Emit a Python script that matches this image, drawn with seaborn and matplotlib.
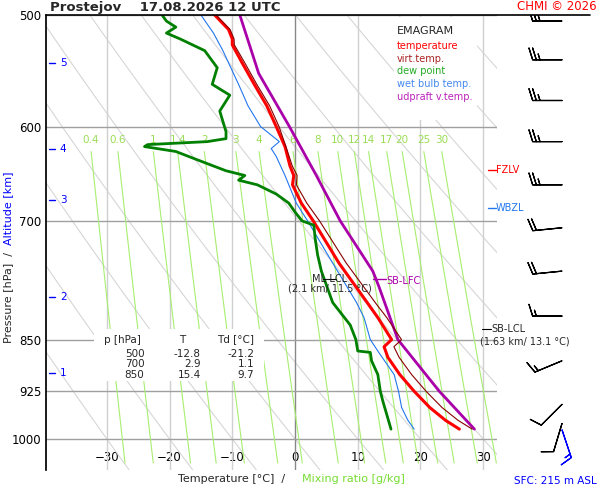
import numpy as np
import pandas as pd
import matplotlib
matplotlib.use("Agg")
import matplotlib.pyplot as plt
import seaborn as sns
from matplotlib.lines import Line2D

sns.set_theme(style="white")
plt.rcParams['font.family'] = ['DejaVu Sans']

# ---- data ----
p_T = [984, 970, 950, 925, 900, 875, 860, 855, 850, 820, 800, 750, 700, 680, 660, 650, 640, 620, 600, 580, 560, 540, 525, 520, 512, 500]
T   = [26.2, 24.0, 21.5, 19.0, 16.7, 14.8, 14.2, 14.8, 15.4, 13.2, 11.5, 7.0, 2.9, 1.0, -0.4, -0.2, -0.8, -1.6, -3.0, -4.5, -6.5, -8.5, -10.0, -10.0, -10.6, -12.8]
p_Td = [984, 960, 940, 925, 900, 880, 868, 866, 850, 830, 800, 760, 740, 720, 705, 700, 690, 680, 670, 660, 655, 650, 645, 640, 630, 625, 620, 618, 615, 612, 605, 595, 585, 570, 560, 545, 530, 520, 515, 510, 505, 500]
Td   = [15.3, 14.6, 14.0, 13.6, 13.2, 12.2, 12.0, 10.0, 9.7, 8.8, 6.0, 4.2, 3.6, 3.2, 3.0, 1.1, 0.0, -1.0, -3.0, -6.0, -9.0, -8.0, -11.0, -13.0, -17.0, -19.0, -24.0, -23.5, -14.0, -11.0, -11.0, -11.5, -12.0, -10.4, -13.2, -12.4, -14.4, -18.3, -20.5, -19.0, -20.5, -21.2]
p_Tw = [984, 970, 950, 925, 900, 870, 850, 820, 800, 750, 700, 680, 650, 630, 622, 615, 600, 580, 560, 530, 515, 500]
Tw   = [19.0, 18.0, 17.0, 16.5, 15.8, 13.5, 12.0, 11.0, 9.8, 6.0, 2.0, 0.2, -1.6, -3.0, -3.8, -2.5, -5.5, -7.5, -9.0, -11.5, -13.0, -15.0]
p_par = [984, 925, 850, 780, 760, 700, 650, 600, 550, 500]
T_par = [28.6, 23.0, 16.4, 13.4, 12.4, 7.2, 3.4, -0.9, -5.8, -8.8]

wind_p = [505, 538, 575, 615, 660, 708, 760, 818, 880, 945, 975, 985]
wind_u = [25, 25, 25, 25, 25, 20, 20, 15, 12, 8, 3, -4]
wind_v = [0, 0, 0, 0, 0, 2, 2, 0, 5, 8, 10, 12]

alt_km = [1, 2, 3, 4, 5]
alt_p = [897, 793, 677, 622, 541]
mix_r = [0.4, 0.6, 1, 1.4, 2, 3, 4, 6, 8, 10, 12, 14, 17, 20, 25, 30]
p_ticks = [500, 600, 700, 850, 925, 1000]
tab_p = ['500', '700', '850']
tab_T = ['-12.8', '2.9', '15.4']
tab_Td = ['-21.2', '1.1', '9.7']

# virtual temperature from T and Td
def mixr(td, p):
    e = 6.112 * np.exp(17.67 * td / (td + 243.5))
    return 0.622 * e / (p - e)
Td_i = np.interp(np.log(p_T), np.log(p_Td[::-1]), Td[::-1])
Tv = [(t + 273.15) * (1 + 0.61 * mixr(td, p)) - 273.15 for t, td, p in zip(T, Td_i, p_T)]

fig = plt.figure(figsize=(6, 5), dpi=100)
ax = fig.add_axes([46/600, 30/500, 451/600, 455/500])
ax.set_yscale('log')
ax.set_ylim(1052, 500)
ax.set_xlim(-39.7, 32.2)
for s in ['right', 'bottom', 'top']:
    ax.spines[s].set_visible(False)
ax.spines['left'].set_color('black')

# background
pp = np.linspace(500, 1052, 100)
for th in range(-30, 160, 10):
    tk = th + 273.15
    ax.plot(tk * (pp / 1000) ** 0.286 - 273.15, pp, color='#d6d6d6', lw=0.8, zorder=1)
for t in range(-30, 40, 10):
    ax.axvline(t, color='#888888' if t == 0 else '#d0d0d0', lw=1.0, zorder=1)
for pv in p_ticks:
    ax.axhline(pv, color='#a0a0a0', lw=1.0, zorder=1)
pm = np.linspace(625, 1040, 50)
for w in mix_r:
    e = w / 1000 * pm / (0.622 + w / 1000)
    le = np.log(e / 6.112)
    td = 243.5 * le / (17.67 - le)
    ax.plot(td, pm, color='#a8ee70', lw=0.8, zorder=1)
    ax.text(td[0], 618, f"{w:g}", color='#99dd55', fontsize=7.5, ha='center', va='bottom', zorder=2)

kw = dict(sort=False, estimator=None, ax=ax)
sns.lineplot(x=T_par, y=p_par, color='#aa00aa', lw=2, zorder=4, **kw)
sns.lineplot(x=Tv, y=p_T, color='#880000', lw=0.8, zorder=5, **kw)
sns.lineplot(x=T, y=p_T, color='red', lw=2.2, zorder=4, **kw)
sns.lineplot(x=Tw, y=p_Tw, color='#2277ee', lw=0.8, zorder=4, **kw)
sns.lineplot(x=Td, y=p_Td, color='green', lw=2, zorder=4, **kw)

ax.set_yticks(p_ticks)
ax.set_yticklabels([str(v) for v in p_ticks])
ax.yaxis.set_minor_locator(matplotlib.ticker.NullLocator())
ax.set_xticks(range(-30, 40, 10))
ax.tick_params(length=0, labelsize=8.5, colors='black')
ax.tick_params(axis='x', pad=-14)
ax.set_xlabel('')
ax.set_ylabel('')

# altitude ticks
for k, pa in zip(alt_km, alt_p):
    ax.plot([-39.3, -38.3], [pa, pa], color='blue', lw=1, zorder=6)
    ax.text(-37.5, pa, str(k), color='blue', fontsize=7.5, va='center')

# table
ax.add_patch(plt.Rectangle((-32, 835), 27, 75, facecolor='white', edgecolor='none', zorder=6))
ax.text(-30.5, 850, 'p [hPa]', fontsize=7.5, va='center', zorder=7)
ax.text(-18.5, 850, 'T', fontsize=7.5, va='center', zorder=7)
ax.text(-12.5, 850, 'Td [°C]', fontsize=7.5, va='center', zorder=7)
for i, py in enumerate([870.6, 885, 900]):
    ax.text(-24.0, py, tab_p[i], fontsize=7.5, ha='right', va='center', zorder=7)
    ax.text(-15.0, py, tab_T[i], fontsize=7.5, ha='right', va='center', zorder=7)
    ax.text(-6.5, py, tab_Td[i], fontsize=7.5, ha='right', va='center', zorder=7)

ax.add_patch(plt.Rectangle((15.8, 502), 13.2, 92, facecolor='white', edgecolor='none', zorder=6))
ax.text(16.2, 509, 'EMAGRAM', fontsize=8, va='top', zorder=7)
for i, (lab, c) in enumerate([('temperature', 'red'), ('virt.temp.', '#aa2222'), ('dew point', '#22aa22'),
                               ('wet bulb temp.', '#4488ee'), ('udpraft v.temp.', '#bb22bb')]):
    ax.text(16.2, 526 * (1.021 ** i), lab, color=c, fontsize=7, va='center', zorder=7)

ax.plot([4.5, 6.5], [770, 770], color='black', lw=0.8, zorder=7)
ax.text(5.5, 776, 'ML-LCL\n(2.1 km/ 11.5 °C)', fontsize=7, ha='center', va='center', linespacing=1.0, zorder=7)
ax.plot([12.5, 14.5], [770, 770], color='#aa00aa', lw=1, zorder=7)
ax.text(14.5, 772, 'SB-LFC', color='#aa00aa', fontsize=7, va='center', zorder=7)
ax.plot([29.8, 31.2], [836, 836], color='black', lw=0.8, zorder=7, clip_on=False)
ax.text(31.3, 836, 'SB-LCL', fontsize=7, va='center', clip_on=False, zorder=7)
ax.text(29.5, 852, '(1.63 km/ 13.1 °C)', fontsize=7, va='center', clip_on=False, zorder=7)
ax.plot([30.8, 32.0], [644, 644], color='red', lw=1, clip_on=False)
ax.text(32.0, 644, 'FZLV', color='red', fontsize=7, va='center', clip_on=False)
ax.plot([30.8, 32.0], [685, 685], color='#2277ee', lw=1, clip_on=False)
ax.text(32.0, 685, 'WBZL', color='#2277ee', fontsize=7, va='center', clip_on=False)

# wind barbs
bax = fig.add_axes([500/600, 30/500, 100/600, 455/500], sharey=ax)
bax.set_xlim(0, 1)
bax.axis('off')
bax.barbs(np.full(len(wind_p), 0.62), wind_p, wind_u, wind_v, length=6.5, lw=0.9,
          color=['black'] * (len(wind_p) - 1) + ['blue'], sizes=dict(emptybarb=0.1))

fig.add_artist(Line2D([46/600, 590/600], [485/500, 485/500], color='black', lw=1.2))
fig.text(50/600, 493/500, 'Prostejov    17.08.2026 12 UTC', fontsize=9.5, fontweight='bold', va='center')
fig.text(597/600, 493/500, 'CHMI © 2026', color='red', fontsize=8.5, ha='right', va='center')
fig.text(292/600, 21/500, 'Temperature [°C]  /  ', fontsize=8, ha='right', va='center')
fig.text(302/600, 21/500, 'Mixing ratio [g/kg]', fontsize=8, color='#77dd33', ha='left', va='center')
fig.text(597/600, 19/500, 'SFC: 215 m ASL', fontsize=7.5, color='blue', ha='right', va='center')
fig.text(8/600, 255/500, 'Pressure [hPa]  /  ', fontsize=8, rotation=90, rotation_mode='anchor',
         ha='right', va='center')
fig.text(8/600, 255/500, 'Altitude [km]', fontsize=8, rotation=90, rotation_mode='anchor',
         color='blue', ha='left', va='center')

fig.savefig('out.png', dpi=100)
